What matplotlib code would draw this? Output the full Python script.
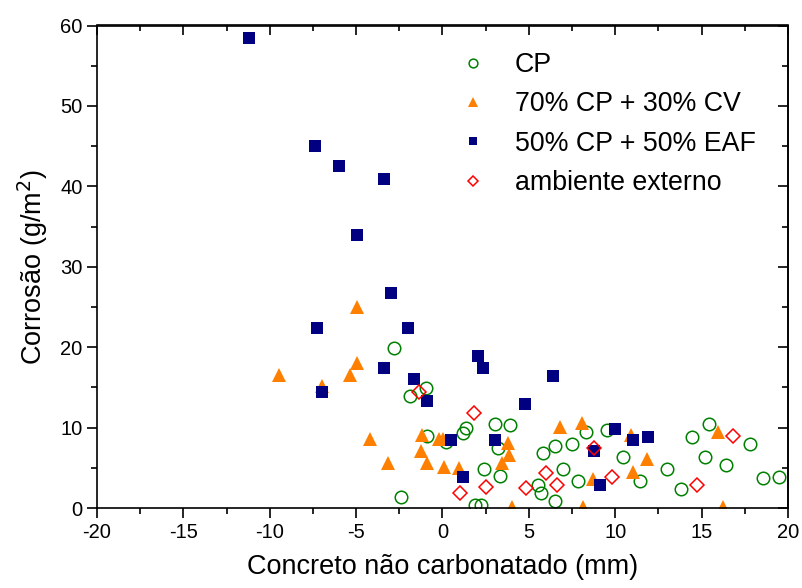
import matplotlib
matplotlib.use("Agg")
import matplotlib.pyplot as plt
from matplotlib.ticker import MultipleLocator

plt.rcParams['font.family'] = ['Liberation Sans', 'DejaVu Sans']
plt.rcParams['axes.unicode_minus'] = False

# CP (open green circles)
cp_x = [-2.78, -0.94, -1.87, -0.87, -2.39, 1.18, 1.37, 0.21, 3.05, 3.92, 8.31, 9.53,
        14.43, 15.41, 17.8, 18.54, 19.5, 16.42, 15.22, 13.79, 13.0, 11.42, 10.42,
        7.83, 7.5, 7.0, 6.52, 5.83, 5.50, 5.73, 6.52, 3.24, 3.32, 2.43, 1.89, 2.24]
cp_y = [19.9, 14.95, 13.9, 8.9, 1.37, 9.35, 9.9, 8.2, 10.4, 10.3, 9.4, 9.7,
        8.86, 10.4, 7.9, 3.7, 3.9, 5.4, 6.4, 2.36, 4.85, 3.4, 6.4,
        3.4, 7.9, 4.9, 7.7, 6.9, 2.9, 1.9, 0.87, 7.4, 4.0, 4.9, 0.41, 0.41]

# 70% CP + 30% CV (orange triangles)
cv_x = [-4.96, -4.96, -9.47, -5.38, -6.96, -4.17, -1.18, -0.21, 0.04, -1.27, -3.17,
        -0.91, 0.06, 0.93, 4.05, 3.86, 3.8, 3.43, 6.83, 8.06, 10.9, 15.93, 16.22,
        11.83, 11.02, 8.74, 8.16]
cv_y = [25.0, 18.05, 16.5, 16.5, 15.2, 8.6, 9.1, 8.6, 8.6, 7.1, 5.55,
        5.55, 5.05, 5.0, 0.1, 6.55, 8.1, 5.55, 10.1, 10.6, 9.1, 9.5, 0.1,
        6.05, 4.5, 3.6, 0.1]

# 50% CP + 50% EAF (navy squares)
eaf_x = [-11.23, -7.37, -5.98, -3.36, -4.96, -2.97, -7.27, -1.97, -3.37, -1.66, -6.96,
         -0.89, 0.5, 2.03, 2.33, 6.42, 4.75, 3.05, 1.18, 10.01, 11.0, 11.92, 9.10, 8.78]
eaf_y = [58.5, 45.0, 42.5, 40.95, 33.95, 26.7, 22.4, 22.4, 17.4, 16.0, 14.45,
         13.3, 8.45, 18.9, 17.4, 16.4, 12.9, 8.4, 3.9, 9.85, 8.4, 8.86, 2.9, 7.1]

# ambiente externo (open red diamonds)
ext_x = [-1.37, 1.85, 1.02, 2.53, 4.82, 6.02, 6.62, 8.78, 9.82, 14.72, 16.82]
ext_y = [14.4, 11.8, 1.9, 2.6, 2.5, 4.35, 2.9, 7.4, 3.9, 2.9, 9.0]

labels = ['CP', '70% CP + 30% CV', '50% CP + 50% EAF', 'ambiente externo']

fig = plt.figure(figsize=(8.03, 5.88), dpi=100)
ax = fig.add_axes([97/803, 1-508/588, 691/803, 482.5/588])

ax.plot(cp_x, cp_y, linestyle='none', marker='o', markersize=9, markerfacecolor='none',
        markeredgecolor='#008000', markeredgewidth=1.1, label=labels[0])
ax.plot(cv_x, cv_y, linestyle='none', marker='^', markersize=10, color='#FF8000',
        markeredgewidth=0, label=labels[1])
ax.plot(eaf_x, eaf_y, linestyle='none', marker='s', markersize=8, color='#000080',
        markeredgewidth=0, label=labels[2])
ax.plot(ext_x, ext_y, linestyle='none', marker='D', markersize=7, markerfacecolor='none',
        markeredgecolor='#FF0000', markeredgewidth=1.1, label=labels[3])

ax.set_xlim(-20, 20)
ax.set_ylim(0, 60)
ax.xaxis.set_major_locator(MultipleLocator(5))
ax.xaxis.set_minor_locator(MultipleLocator(2.5))
ax.yaxis.set_major_locator(MultipleLocator(10))
ax.yaxis.set_minor_locator(MultipleLocator(5))

for sp in ax.spines.values():
    sp.set_linewidth(1.2)

ax.tick_params(which='both', direction='out', top=False, right=False, width=1.2,
               labelsize=14.5, pad=3)
ax.tick_params(which='major', length=7.5)
ax.tick_params(which='minor', length=4.5)

# inward ticks on top and right
axt = ax.secondary_xaxis('top')
axt.xaxis.set_major_locator(MultipleLocator(5))
axt.xaxis.set_minor_locator(MultipleLocator(2.5))
axt.tick_params(which='both', direction='in', labeltop=False, width=1.2)
axt.tick_params(which='major', length=7.5)
axt.tick_params(which='minor', length=4.5)
axr = ax.secondary_yaxis('right')
axr.yaxis.set_major_locator(MultipleLocator(10))
axr.yaxis.set_minor_locator(MultipleLocator(5))
axr.tick_params(which='both', direction='in', labelright=False, width=1.2)
axr.tick_params(which='major', length=7.5)
axr.tick_params(which='minor', length=4.5)
for a in (axt, axr):
    for sp in a.spines.values():
        sp.set_linewidth(1.2)

ax.set_xlabel('Concreto não carbonatado (mm)', fontsize=19.5, labelpad=9)
ax.set_ylabel('Corrosão (g/m$^2$)', fontsize=19.5, labelpad=7)

ax.legend(loc='upper left', bbox_to_anchor=(0.525, 0.945), frameon=False,
          fontsize=19.3, markerscale=0.7, handlelength=1.0, handletextpad=1.05,
          labelspacing=0.5, borderpad=0, borderaxespad=0, numpoints=1)

fig.savefig('out.png', dpi=100)
